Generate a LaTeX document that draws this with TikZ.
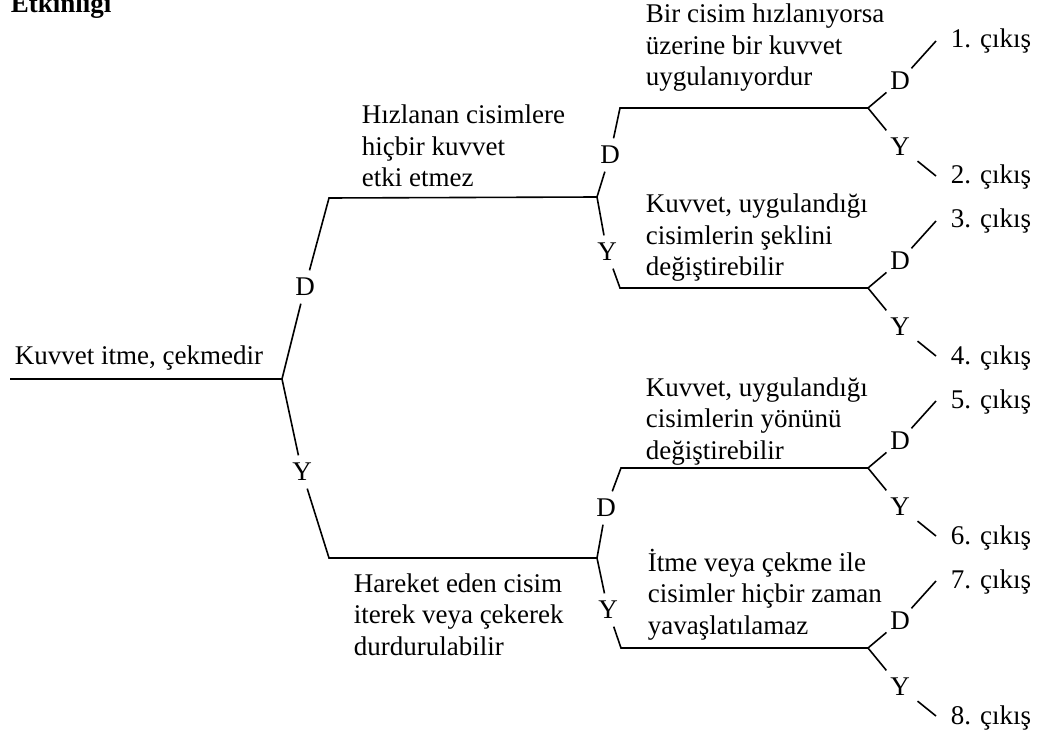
\documentclass[tikz,border=0pt]{standalone}
\usepackage{fontspec}
\setmainfont{Liberation Serif}
\begin{document}
\begin{tikzpicture}[x=1pt,y=-1pt,
  line width=1.6pt,
  txt/.style={inner sep=0pt, anchor=base west, align=left, font=\fontsize{27}{31.5}\selectfont},
  lab/.style={inner sep=7pt, font=\fontsize{27}{31.5}\selectfont},
  labd/.style={lab, inner sep=3pt},
]
\useasboundingbox (0,0) rectangle (1039,738);

% title (cut at top edge, as in the reference)
\node[txt, font=\fontsize{27}{31.5}\selectfont\bfseries] (title) at (10,13) {Etkinliği};

% level 3 junctions, labels and outputs
\foreach \n/\y/\u/\d in {a/108/1/2, b/288/3/4, c/468/5/6, d/648/7/8} {
  \coordinate (j3\n) at (868,\y);
  \node[labd] (D3\n) at (900,\y-27) {D};
  \node[lab] (Y3\n) at (900,\y+39) {Y};
  \coordinate (o\u) at (936,\y-67);
  \coordinate (o\d) at (936,\y+68);
  \node[txt] (t\u) at (950,\y-60) {\u. çıkış};
  \node[txt] (t\d) at (950,\y+76) {\d. çıkış};
  \draw (j3\n) -- (D3\n) -- (o\u);
  \draw (j3\n) -- (Y3\n) -- (o\d);
}

% root
\coordinate (r0) at (10,379);
\coordinate (j1) at (282,379);
\node[txt] (troot) at (14,364) {Kuvvet itme, çekmedir};
\draw (r0) -- (j1);

% level 1
\node[lab] (D1) at (305,287) {D};
\node[lab] (Y1) at (302,472) {Y};
\coordinate (a1) at (329,198);
\coordinate (b1) at (329,558);
\coordinate (j2a) at (597,197);
\coordinate (j2b) at (597,558);
\draw (j1) -- (D1) -- (a1) -- (j2a);
\draw (j1) -- (Y1) -- (b1) -- (j2b);
\node[txt] (tA) at (361,187) {Hızlanan cisimlere\\hiçbir kuvvet\\etki etmez};
\node[txt] (tB) at (353,655) {Hareket eden cisim\\iterek veya çekerek\\durdurulabilir};

% level 2 upper
\node[lab] (D2a) at (610,155) {D};
\node[lab] (Y2a) at (607,252) {Y};
\coordinate (e2a) at (620,108);
\coordinate (e2b) at (620,288);
\draw (j2a) -- (D2a) -- (e2a) -- (j3a);
\draw (j2a) -- (Y2a) -- (e2b) -- (j3b);

% level 2 lower
\node[lab] (D2b) at (606,508) {D};
\node[lab] (Y2b) at (608,610) {Y};
\coordinate (e2c) at (621,468);
\coordinate (e2d) at (621,648);
\draw (j2b) -- (D2b) -- (e2c) -- (j3c);
\draw (j2b) -- (Y2b) -- (e2d) -- (j3d);

% level 2 texts
\node[txt] (tA1) at (645,86) {Bir cisim hızlanıyorsa\\üzerine bir kuvvet\\uygulanıyordur};
\node[txt] (tA2) at (645,276) {Kuvvet, uygulandığı\\cisimlerin şeklini\\değiştirebilir};
\node[txt] (tB1) at (645,459) {Kuvvet, uygulandığı\\cisimlerin yönünü\\değiştirebilir};
\node[txt] (tB2) at (647,634) {İtme veya çekme ile\\cisimler hiçbir zaman\\yavaşlatılamaz};
\end{tikzpicture}
\end{document}
